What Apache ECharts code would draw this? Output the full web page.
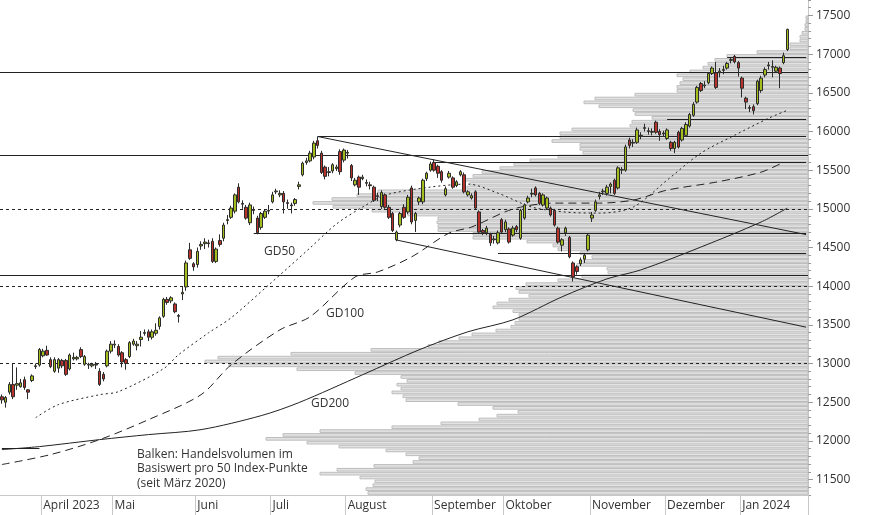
<!DOCTYPE html>
<html>
<head>
<meta charset="utf-8">
<script src="https://cdn.jsdelivr.net/npm/echarts@6/dist/echarts.min.js"></script>
<style>
html,body{margin:0;padding:0;background:#fff}
#chart{width:874px;height:515px}
</style>
</head>
<body>
<div id="chart"></div>
<script>
// Tageskerzen [open, close, low, high]
var candles = [
[12570,12530,12480,12600],[12500,12560,12430,12580],[12630,12730,12600,12760],[12730,12570,12540,13000],
[12720,12740,12660,12950],[12700,12750,12690,12800],[12790,12690,12660,12830],[12660,12630,12540,12670],
[12780,12840,12760,12860],[12960,12970,12930,13000],[12980,13180,12960,13200],[13100,13160,13080,13190],
[13170,13110,13100,13230],[13050,12960,12940,13080],[12900,13050,12880,13080],[12940,13050,12880,13070],
[13040,12970,12940,13060],[13040,12860,12840,13060],[12930,13110,12910,13130],[13060,13080,13040,13140],
[13060,13080,13040,13100],[13180,13090,13070,13210],[12990,13090,12970,13110],[12990,12980,12930,13010],
[12970,12990,12950,13010],[12980,12990,12930,13020],[12900,12730,12710,12940],[12860,12800,12770,12890],
[12970,13160,12950,13180],[13160,13250,13130,13290],[13240,13250,13200,13300],[13220,13110,13090,13250],
[13140,13020,12950,13160],[13050,13000,12920,13070],[13090,13270,13070,13290],[13250,13290,13230,13320],
[13230,13250,13170,13290],[13310,13340,13220,13420],[13390,13400,13360,13440],[13410,13340,13290,13440],
[13340,13410,13310,13440],[13390,13430,13360,13520],[13480,13590,13440,13610],[13610,13830,13590,13850],
[13830,13790,13760,13860],[13810,13850,13780,13870],[13770,13670,13650,13790],[13620,13610,13530,13640],
[13900,13920,13820,13990],[13990,14300,13940,14330],[14470,14360,14340,14560],[14290,14250,14200,14310],
[14280,14450,14240,14500],[14520,14540,14470,14580],[14550,14570,14480,14620],[14560,14550,14500,14600],
[14580,14320,14300,14620],[14320,14480,14300,14500],[14590,14540,14510,14670],[14620,14790,14580,14820],
[14850,14860,14800,14920],[14890,15010,14870,15040],[14970,15180,14940,15200],[15280,15090,15070,15330],
[15070,15060,15000,15110],[15020,14880,14860,15050],[14820,15050,14790,15080],[14990,14980,14930,15030],
[14880,14690,14670,14910],[14760,14940,14730,14960],[14890,14970,14870,14990],[14970,14980,14930,15050],
[15090,15180,15070,15220],[15220,15230,15190,15260],[15180,15200,15150,15240],[15200,15090,14940,15230],
[15080,15070,15000,15120],[15050,15040,14940,15080],[15070,15120,15040,15140],[15290,15310,15250,15350],
[15440,15590,15420,15610],[15600,15620,15570,15660],[15620,15720,15600,15750],[15670,15850,15640,15880],
[15880,15820,15780,15930],[15720,15470,15450,15750],[15540,15420,15380,15560],[15470,15480,15420,15540],
[15490,15570,15460,15590],[15520,15540,15490,15570],[15740,15480,15440,15770],[15630,15760,15600,15780],
[15720,15730,15650,15760],[15560,15400,15360,15580],[15310,15370,15290,15400],[15410,15280,15180,15430],
[15390,15410,15370,15440],[15330,15340,15290,15380],[15310,15300,15250,15350],[15280,15110,15090,15300],
[15170,15160,15100,15210],[15030,15210,15000,15240],[15180,15020,15000,15200],[15020,14890,14870,15050],
[14940,14720,14700,14960],[14600,14700,14580,14720],[14790,14940,14760,14960],[15020,14890,14870,15060],
[14960,15150,14930,15180],[15270,14830,14800,15300],[14850,14940,14700,14960],[15090,15140,15050,15160],
[15090,15370,15060,15390],[15390,15460,15360,15480],[15500,15580,15480,15610],[15600,15500,15480,15640],
[15550,15460,15400,15570],[15480,15370,15340,15500],[15180,15260,15160,15290],[15410,15460,15390,15490],
[15400,15280,15260,15420],[15300,15350,15280,15370],[15440,15480,15420,15500],[15440,15220,15200,15470],
[15180,15220,15160,15240],[15140,15170,15120,15200],[15220,15010,14990,15240],[14960,14700,14690,14980],
[14720,14690,14660,14740],[14690,14750,14660,14780],[14670,14560,14520,14690],[14600,14610,14550,14650],
[14560,14690,14540,14720],[14860,14700,14680,14880],[14730,14830,14700,14860],[14740,14570,14550,14760],
[14660,14750,14640,14780],[14770,14730,14700,14790],[14620,14980,14600,15000],[14880,15050,14860,15070],
[15090,15140,15070,15170],[15190,15200,15150,15260],[15270,15180,15160,15290],[15200,15070,15050,15220],
[15050,15180,15030,15200],[15010,15140,14990,15160],[15010,14920,14900,15030],[14980,14790,14770,15000],
[14750,14570,14550,14770],[14530,14600,14450,14620],[14690,14750,14650,14770],[14630,14380,14360,14650],
[14300,14120,14060,14320],[14250,14190,14150,14270],[14290,14340,14260,14370],[14350,14400,14300,14420],
[14470,14660,14450,14680],[14880,14920,14830,14960],[14980,15090,14960,15120],[15160,15180,15120,15220],
[15220,15230,15180,15260],[15200,15280,15170,15310],[15290,15320,15200,15340],[15370,15200,15180,15390],
[15270,15530,15250,15550],[15500,15510,15450,15540],[15500,15800,15480,15830],[15890,15820,15780,15920],
[15850,15860,15800,15900],[15860,16020,15840,16050],[15940,15950,15900,15990],[16040,16050,16000,16100],
[16010,16000,15960,16050],[15990,16000,15950,16040],[16120,15990,15970,16140],[16000,15960,15880,16030],
[15980,15970,15930,16010],[15910,16020,15890,16040],[15860,15780,15750,15880],[15780,15860,15720,15880],
[15990,15800,15780,16010],[15890,16040,15870,16060],[15950,16090,15930,16120],[16070,16220,16050,16240],
[16210,16350,16190,16380],[16380,16570,16360,16590],[16620,16530,16510,16640],[16590,16600,16560,16650],
[16630,16750,16610,16770],[16750,16820,16730,16840],[16760,16570,16550,16900],[16760,16780,16700,16820],
[16790,16800,16740,16850],[16820,16880,16800,16900],[16920,16930,16880,16960],[16970,16900,16880,16990],
[16890,16820,16710,16910],[16690,16560,16440,16710],[16430,16380,16290,16450],[16310,16300,16250,16340],
[16320,16270,16220,16350],[16360,16650,16340,16670],[16530,16690,16500,16720],[16730,16800,16700,16830],
[16850,16860,16800,16900],[16830,16840,16700,16920],[16780,16830,16760,16850],[16820,16750,16560,16840],
[16890,16980,16870,17020],[17060,17320,17040,17330]
];
var emptySlots = 5;

var monthStarts = [11, 30, 52, 72, 92, 115, 134, 157, 177, 197];
var monthNames = ['April 2023', 'Mai', 'Juni', 'Juli', 'August', 'September', 'Oktober', 'November', 'Dezember', 'Jan 2024'];

// gleitende Durchschnitte [Tagesindex, Wert]
var gd50 = [[9,12300],[15,12468],[26,12597],[31,12636],[43,12932],[47,13113],[55,13397],[61,13591],[71,14016],
  [82,14494],[89,14803],[96,15023],[102,15177],[114,15281],[124,15320],[132,15203],[141,15023],[150,14958],
  [159,14945],[168,15023],[177,15371],[186,15720],[195,15952],[204,16171],[209,16274]];
var gd100 = [[0,11694],[13,11823],[26,12016],[39,12274],[53,12597],[61,12984],[74,13436],[82,13604],[94,14120],
  [100,14184],[109,14378],[119,14687],[125,14765],[136,14997],[147,15074],[159,15074],[168,15113],[177,15242],
  [190,15345],[202,15474],[208,15603]];
var gd200 = [[0,11887],[10,11926],[26,12016],[39,12081],[53,12145],[69,12326],[79,12494],[96,12855],[111,13177],
  [124,13410],[136,13565],[149,13861],[161,14094],[170,14210],[186,14506],[202,14829],[209,15010]];

// Volumenprofil pro 50 Punkte, ab 11300 aufwärts
var profileBase = 11300;
var profileStep = 50;
var profileVol = [440,442,435,433,448,488,471,434,395,389,402,422,469,501,542,525,488,416,367,329,311,290,315,350,
  402,405,416,407,411,401,407,453,511,579,603,590,517,437,380,369,349,336,312,297,293,289,289,295,315,311,299,279,
  289,292,282,250,226,200,
  201,231,225,216,228,250,255,281,335,335,370,370,371,370,400,436,475,495,476,451,430,341,338,345,335,326,308,294,
  278,250,225,228,228,256,248,248,236,178,176,156,173,175,209,224,213,173,131,131,128,125,131,118,105,100,93,81,51,
  18,18,8,8,6,3,3,2,2];

var fullLines = [16765, 15690, 14145];
var dottedLines = [15000, 14000, 13000];
var segLines = [[84,15935],[115,15607],[177,16162],[193,16958],[67,14687],[132,14429],[0,11900]];
var segEnd = [214,214,214,214,214,214,10];
var trendA = [[84,15935],[214,14667]];
var trendB = [[105,14597],[214,13470]];

var chart = echarts.init(document.getElementById('chart'));
var nCat = candles.length + emptySlots;
var cats = [];
for (var i = 0; i < nCat; i++) cats.push(String(i));
var candleData = candles.slice();
for (var k = 0; k < emptySlots; k++) candleData.push('-');

var profileData = profileVol.map(function (v, i) { return [v, profileBase + i * profileStep]; });
var minorTicks = [], majorTicks = [];
for (var t = 11300; t <= 17700; t += 100) { minorTicks.push(t); if (t % 500 === 0) majorTicks.push(t); }

function isMonthStart(i) { return monthStarts.indexOf(i) >= 0; }

var markData = [];
fullLines.forEach(function (v) { markData.push({ yAxis: v, lineStyle: { type: 'solid' } }); });
dottedLines.forEach(function (v) { markData.push({ yAxis: v, lineStyle: { type: [3, 3] } }); });
segLines.forEach(function (s, i) {
  markData.push([{ coord: [s[0], s[1]] }, { coord: [segEnd[i], s[1]] }]);
});
markData.push([{ coord: trendA[0] }, { coord: trendA[1] }]);
markData.push([{ coord: trendB[0] }, { coord: trendB[1] }]);

var txt = { fontFamily: 'Open Sans', fontSize: 12, fill: '#333' };

var option = {
  animation: false,
  grid: { left: 0, right: 66, top: 0, bottom: 20 },
  xAxis: [{
    type: 'category', data: cats, boundaryGap: true,
    axisLine: { lineStyle: { color: '#c8c8c8' } },
    axisTick: { show: true, length: 20, interval: function (i) { return isMonthStart(i); }, lineStyle: { color: '#c8c8c8' } },
    axisLabel: {
      interval: function (i) { return isMonthStart(i); },
      formatter: function (v, i) { var m = monthStarts.indexOf(i); return m >= 0 ? monthNames[m] : ''; },
      align: 'left', margin: 5, color: '#333', fontFamily: 'Open Sans', fontSize: 12
    },
    splitLine: { show: false }
  }, {
    type: 'value', min: 0, max: 808, inverse: true, show: false, position: 'top'
  }],
  yAxis: [{
    type: 'value', position: 'right', min: 11300, max: 17700, scale: true,
    axisLine: { show: true, lineStyle: { color: '#c8c8c8' } },
    axisTick: { show: true, length: 5, customValues: majorTicks, lineStyle: { color: '#999' } },
    axisLabel: { customValues: majorTicks, formatter: function (v) { return String(v); }, color: '#333', fontFamily: 'Open Sans', fontSize: 12, margin: 8 },
    splitLine: { show: false }
  }, {
    type: 'value', position: 'right', min: 11300, max: 17700,
    axisLine: { show: false },
    axisTick: { show: true, length: 3, customValues: minorTicks, lineStyle: { color: '#999' } },
    axisLabel: { show: false }, splitLine: { show: false }
  }],
  series: [{
    type: 'custom', xAxisIndex: 1, yAxisIndex: 0, data: profileData, z: 1, silent: true,
    renderItem: function (params, api) {
      var v = api.value(0), p = api.value(1);
      var a = api.coord([v, p + profileStep]);
      var b = api.coord([0, p]);
      return {
        type: 'rect',
        shape: { x: a[0], y: a[1] + 0.5, width: b[0] - a[0], height: b[1] - a[1] - 1.2 },
        style: { fill: '#e2e2e2', stroke: '#bdbdbd', lineWidth: 1 }
      };
    }
  }, {
    type: 'candlestick', data: candleData, barWidth: 3, z: 5,
    itemStyle: { color: '#a3bd1c', color0: '#b8312a', borderColor: '#2b2b2b', borderColor0: '#2b2b2b', borderWidth: 1 },
    markLine: {
      symbol: ['none', 'none'], silent: true, label: { show: false }, animation: false,
      lineStyle: { color: '#222', width: 1, type: 'solid' },
      data: markData
    }
  }, {
    type: 'line', data: gd50, showSymbol: false, smooth: 0.3, z: 4,
    lineStyle: { color: '#222', width: 1, type: [2, 3] }
  }, {
    type: 'line', data: gd100, showSymbol: false, smooth: 0.3, z: 4,
    lineStyle: { color: '#222', width: 1, type: [8, 5] }
  }, {
    type: 'line', data: gd200, showSymbol: false, smooth: 0.3, z: 4,
    lineStyle: { color: '#222', width: 1 }
  }],
  graphic: [
    { type: 'text', left: 264, top: 246, style: Object.assign({ text: 'GD50' }, txt) },
    { type: 'text', left: 326, top: 308, style: Object.assign({ text: 'GD100' }, txt) },
    { type: 'text', left: 311, top: 398, style: Object.assign({ text: 'GD200' }, txt) },
    { type: 'text', left: 137, top: 447, style: Object.assign({ text: 'Balken: Handelsvolumen im\nBasiswert pro 50 Index-Punkte\n(seit März 2020)', lineHeight: 14.5 }, txt) }
  ]
};
chart.setOption(option);
window.addEventListener('resize', function () { chart.resize(); });
</script>
</body>
</html>
